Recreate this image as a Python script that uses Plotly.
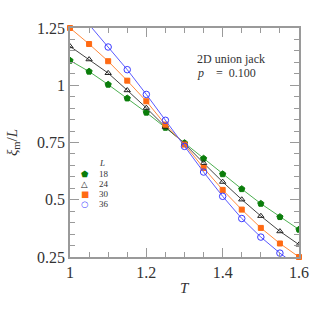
import plotly.graph_objects as go

# temperatures and xi_m/L for each system size L
T = [1.00, 1.05, 1.10, 1.15, 1.20, 1.25, 1.30, 1.35, 1.40, 1.45, 1.50, 1.55, 1.60]
L18 = [1.108, 1.060, 1.003, 0.943, 0.881, 0.815, 0.748, 0.680, 0.612, 0.547, 0.483, 0.425, 0.370]
L24 = [1.170, 1.113, 1.053, 0.978, 0.901, 0.818, 0.745, 0.660, 0.578, 0.501, 0.429, 0.362, 0.304]
L30 = [1.250, 1.180, 1.105, 1.020, 0.930, 0.828, 0.741, 0.639, 0.543, 0.457, 0.377, 0.309, 0.250]
L36 = [None, 1.265, 1.167, 1.068, 0.960, 0.847, 0.733, 0.621, 0.515, 0.418, 0.337, 0.267, 0.205]

SIZES = ["18", "24", "30", "36"]
X_TICKS = [1, 1.2, 1.4, 1.6]
X_LABELS = ["1", "1.2", "1.4", "1.6"]
Y_TICKS = [0.25, 0.5, 0.75, 1, 1.25]
Y_LABELS = ["0.25", "0.5", "0.75", "1", "1.25"]

_SERIF = "Liberation Serif"
_AXIS = "#9a9a9a"
_TEXT = "#333333"

# (values, marker symbol, marker colour, line colour, marker size, clip, legend glyph)
styles = [
    (L18, "pentagon", "#0a7d0a", "#4caf50", 6.5, True, "⬟"),
    (L24, "triangle-up-open", "#222222", "#444444", 5.5, True, "△"),
    (L30, "square", "#ff6a13", "#ff8a3d", 5, False, "■"),
    (L36, "circle-open", "#3a3aff", "#5a5aff", 6.5, True, "○"),
]

fig = go.Figure()
for name, (vals, sym, mc, lc, ms, clip, _) in zip(SIZES, styles):
    fig.add_trace(go.Scatter(
        x=T, y=vals, mode="lines+markers", name=name, cliponaxis=clip,
        line=dict(color=lc, width=1),
        marker=dict(symbol=sym, color=mc, size=ms,
                    line=dict(color=mc, width=1)),
        showlegend=False))

axis_common = dict(
    showline=True, linecolor=_AXIS, linewidth=1.5, mirror="ticks",
    ticks="inside", tickcolor=_AXIS, ticklen=9, tickwidth=1,
    showgrid=False, zeroline=False,
    tickfont=dict(family=_SERIF, size=16, color=_TEXT),
)

fig.update_xaxes(range=[1, 1.6], tickvals=X_TICKS, ticktext=X_LABELS,
                 minor=dict(dtick=0.05, ticks="inside", ticklen=5,
                            tickcolor=_AXIS, tickwidth=1),
                 **axis_common)
fig.update_yaxes(range=[0.25, 1.25], tickvals=Y_TICKS, ticktext=Y_LABELS,
                 minor=dict(dtick=0.05, tick0=0.25, ticks="inside", ticklen=5,
                            tickcolor=_AXIS, tickwidth=1),
                 title=dict(text="<i>ξ</i><sub>m</sub>/<i>L</i>",
                            font=dict(family=_SERIF, size=15, color=_TEXT),
                            standoff=16),
                 **axis_common)

# x-axis title placed closer to the tick labels than plotly's default
fig.add_annotation(xref="paper", yref="paper", x=0.5, y=-0.137,
                   text="<i>T</i>", showarrow=False, yanchor="middle",
                   font=dict(family=_SERIF, size=15, color=_TEXT))

# hand-made legend (plotly's own legend rows are too tall for this spacing)
fig.add_annotation(xref="paper", yref="paper", x=0.12, y=0.41,
                   text="<i>L</i>", showarrow=False, xanchor="left",
                   yanchor="middle", font=dict(family=_SERIF, size=9, color=_TEXT))
for i, (name, st) in enumerate(zip(SIZES, styles)):
    ypos = 0.363 - i * 0.0437
    fig.add_annotation(xref="paper", yref="paper", x=0.065, y=ypos,
                       text=st[6], showarrow=False, xanchor="center",
                       yanchor="middle",
                       font=dict(family="DejaVu Sans", size=8.5, color=st[2]))
    fig.add_annotation(xref="paper", yref="paper", x=0.118, y=ypos,
                       text=name, showarrow=False, xanchor="left",
                       yanchor="middle",
                       font=dict(family=_SERIF, size=9, color=_TEXT))

fig.add_annotation(xref="paper", yref="paper", x=0.545, y=0.903,
                   text="2D union jack", showarrow=False, xanchor="left",
                   font=dict(family=_SERIF, size=12, color=_TEXT))
fig.add_annotation(xref="paper", yref="paper", x=0.545, y=0.842,
                   text="<i>p</i>    =  0.100", showarrow=False, xanchor="left",
                   font=dict(family=_SERIF, size=12, color=_TEXT))

fig.update_layout(width=327, height=327, plot_bgcolor="white",
                  paper_bgcolor="white",
                  margin=dict(l=70, r=28, t=28, b=70))
# drop the browser's default body margin so the figure sits at the page corner
fig.write_html("out.html", config={"displayModeBar": False},
               post_script="document.body.style.margin='0';")
